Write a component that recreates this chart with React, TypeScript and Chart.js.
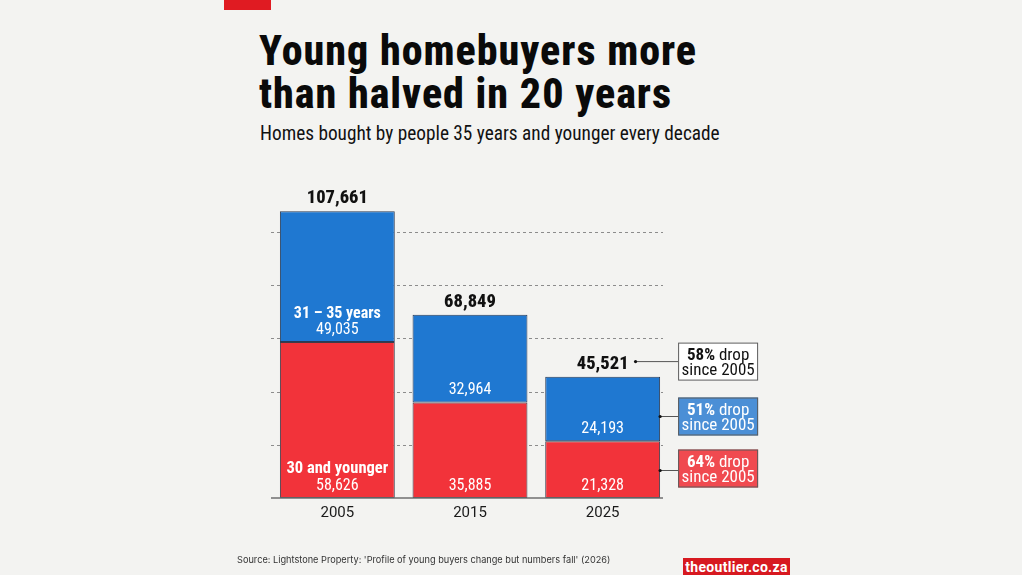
import React, { useEffect, useRef } from "react";
import { Chart, registerables } from "chart.js";

Chart.register(...registerables);

const categories = ["2005", "2015", "2025"];
const youngerValues = [58626, 35885, 21328];
const olderValues = [49035, 32964, 24193];
const totals = [107661, 68849, 45521];
const gridTicks = [20000, 40000, 60000, 80000, 100000];
const annotations = [
  { pct: "58%", rest: " drop", line2: "since 2005", kind: "total" },
  { pct: "51%", rest: " drop", line2: "since 2005", kind: "older" },
  { pct: "64%", rest: " drop", line2: "since 2005", kind: "younger" },
];

const BG = "#f3f3f1";
const RED = "#f2333a";
const BLUE = "#1f78d1";
const BOX_RED = "#f04a50";
const BOX_BLUE = "#4b8fd6";
const FONT = "Roboto, 'Noto Sans', sans-serif";

const fmt = (n: number) => n.toLocaleString("en-US");

function setFont(ctx: CanvasRenderingContext2D, weight: string, size: number) {
  ctx.font = `${weight} ${size}px ${FONT}`;
  try {
    (ctx as any).fontStretch = "condensed";
  } catch (e) {}
}

const overlayPlugin = {
  id: "overlay",
  beforeDatasetsDraw(chart: any) {
    const ctx: CanvasRenderingContext2D = chart.ctx;
    const y = chart.scales.y;
    const left = chart.chartArea.left;
    const right = chart.chartArea.right - 6;
    ctx.save();
    ctx.strokeStyle = "#8c8c8c";
    ctx.lineWidth = 1;
    ctx.setLineDash([3, 3]);
    gridTicks.forEach((v) => {
      const py = Math.round(y.getPixelForValue(v)) + 0.5;
      ctx.beginPath();
      ctx.moveTo(left, py);
      ctx.lineTo(right, py);
      ctx.stroke();
    });
    ctx.restore();
  },
  afterDatasetsDraw(chart: any) {
    const ctx: CanvasRenderingContext2D = chart.ctx;
    const y = chart.scales.y;
    const left = chart.chartArea.left;
    const right = chart.chartArea.right - 6;
    const metaR = chart.getDatasetMeta(0);
    const metaB = chart.getDatasetMeta(1);
    ctx.save();
    // baseline
    ctx.strokeStyle = "#6f6f6f";
    ctx.lineWidth = 1.5;
    ctx.beginPath();
    const by = y.getPixelForValue(0);
    ctx.moveTo(left, by);
    ctx.lineTo(right, by);
    ctx.stroke();

    ctx.textAlign = "center";
    ctx.textBaseline = "alphabetic";
    categories.forEach((_, i) => {
      const r = metaR.data[i];
      const b = metaB.data[i];
      const x = r.x;
      // total
      ctx.fillStyle = "#111";
      setFont(ctx, "800", 18.5);
      ctx.fillText(fmt(totals[i]), x, b.y - 8);
      // blue segment label
      ctx.fillStyle = "#fff";
      setFont(ctx, "400", 16);
      ctx.fillText(fmt(olderValues[i]), x, b.base - 8);
      // red segment label
      ctx.fillText(fmt(youngerValues[i]), x, r.base - 8);
      if (i === 0) {
        setFont(ctx, "700", 16);
        ctx.fillText("31 – 35 years", x, b.base - 24);
        setFont(ctx, "700", 16.5);
        ctx.fillText("30 and younger", x, r.base - 25);
      }
    });

    // annotations
    const last = categories.length - 1;
    const rl = metaR.data[last];
    const bl = metaB.data[last];
    const barRight = rl.x + rl.width / 2;
    const boxX = barRight + 18;
    const boxW = 80;
    const boxH = 38;
    setFont(ctx, "800", 18.5);
    const totW = ctx.measureText(fmt(totals[last])).width;
    const centers = [bl.y - 15.2, bl.y + 39.7, rl.y + 27.3];
    const lineOffsets = [0, 0, 2];
    const starts = [rl.x + totW / 2 + 7, barRight, barRight];
    annotations.forEach((a, k) => {
      const cy = centers[k];
      const ly = cy + lineOffsets[k];
      ctx.strokeStyle = "#555";
      ctx.lineWidth = 1;
      ctx.setLineDash([]);
      ctx.beginPath();
      ctx.moveTo(starts[k], ly);
      ctx.lineTo(boxX, ly);
      ctx.stroke();
      ctx.fillStyle = "#111";
      ctx.beginPath();
      ctx.arc(starts[k], ly, 1.6, 0, Math.PI * 2);
      ctx.fill();
      const top = cy - boxH / 2;
      ctx.fillStyle = a.kind === "total" ? "#ffffff" : a.kind === "older" ? BOX_BLUE : BOX_RED;
      ctx.fillRect(boxX, top, boxW, boxH);
      ctx.strokeStyle = "#5a5a5a";
      ctx.strokeRect(boxX + 0.5, top + 0.5, boxW - 1, boxH - 1);
      const tc = a.kind === "total" ? "#111" : "#fff";
      ctx.fillStyle = tc;
      setFont(ctx, "700", 17);
      const w1 = ctx.measureText(a.pct).width;
      setFont(ctx, "400", 17);
      const w2 = ctx.measureText(a.rest).width;
      const sx = boxX + boxW / 2 - (w1 + w2) / 2;
      ctx.textAlign = "left";
      setFont(ctx, "700", 17);
      ctx.fillText(a.pct, sx, top + 17);
      setFont(ctx, "400", 17);
      ctx.fillText(a.rest, sx + w1, top + 17);
      ctx.textAlign = "center";
      ctx.fillText(a.line2, boxX + boxW / 2, top + 32);
    });
    ctx.restore();
  },
};

export default function App() {
  const ref = useRef<HTMLCanvasElement | null>(null);
  useEffect(() => {
    if (!ref.current) return;
    const chart = new Chart(ref.current, {
      type: "bar",
      data: {
        labels: categories,
        datasets: [
          {
            label: "30 and younger",
            data: youngerValues,
            backgroundColor: RED,
            borderColor: "#3b3b4a",
            borderWidth: 1,
            borderSkipped: false,
            barPercentage: 0.866,
            categoryPercentage: 1,
          },
          {
            label: "31 – 35 years",
            data: olderValues,
            backgroundColor: BLUE,
            borderColor: "#2a3b55",
            borderWidth: 1,
            borderSkipped: false,
            barPercentage: 0.866,
            categoryPercentage: 1,
          },
        ],
      },
      options: {
        responsive: false,
        animation: false,
        events: [],
        layout: { padding: { left: 271, right: 353, top: 178.5, bottom: 47 } },
        plugins: { legend: { display: false }, tooltip: { enabled: false } },
        scales: {
          x: {
            stacked: true,
            grid: { display: false, drawTicks: false },
            border: { display: false },
            ticks: {
              color: "#1a1a1a",
              padding: 6,
              font: { family: FONT, size: 15 },
            },
            afterFit: (s: any) => {
              s.height = 30;
            },
          },
          y: {
            stacked: true,
            display: false,
            min: 0,
            max: 120000,
          },
        },
      },
      plugins: [overlayPlugin],
    });
    return () => chart.destroy();
  }, []);

  return (
    <div
      style={{
        position: "fixed",
        left: 0,
        top: 0,
        width: 1022,
        height: 575,
        background: BG,
        overflow: "hidden",
        fontFamily: FONT,
      }}
    >
      <div style={{ position: "absolute", left: 224, top: 0, width: 47, height: 10, background: "#e01b22" }} />
      <div
        style={{
          position: "absolute",
          left: 259,
          top: 29,
          fontSize: 42,
          fontWeight: 800,
          fontStretch: "condensed",
          lineHeight: "43px",
          letterSpacing: "1px",
          color: "#0a0a0a",
          whiteSpace: "nowrap",
        }}
      >
        Young homebuyers more
        <br />
        than halved in 20 years
      </div>
      <div
        style={{
          position: "absolute",
          left: 260,
          top: 122,
          fontSize: 19.3,
          fontStretch: "condensed",
          color: "#111",
          whiteSpace: "nowrap",
        }}
      >
        Homes bought by people 35 years and younger every decade
      </div>
      <canvas ref={ref} width={1022} height={575} style={{ position: "absolute", left: 0, top: 0 }} />
      <div
        style={{
          position: "absolute",
          left: 237,
          top: 554,
          fontSize: 9.2,
          fontFamily: "Inter, sans-serif",
          color: "#333",
          whiteSpace: "nowrap",
        }}
      >
        Source: Lightstone Property: 'Profile of young buyers change but numbers fall' (2026)
      </div>
      <div
        style={{
          position: "absolute",
          left: 683,
          top: 558,
          width: 107,
          height: 17,
          background: "#d71920",
          color: "#fff",
          fontWeight: 700,
          fontSize: 14,
          lineHeight: "18px",
          textAlign: "center",
          letterSpacing: "0.3px",
        }}
      >
        theoutlier.co.za
      </div>
    </div>
  );
}
